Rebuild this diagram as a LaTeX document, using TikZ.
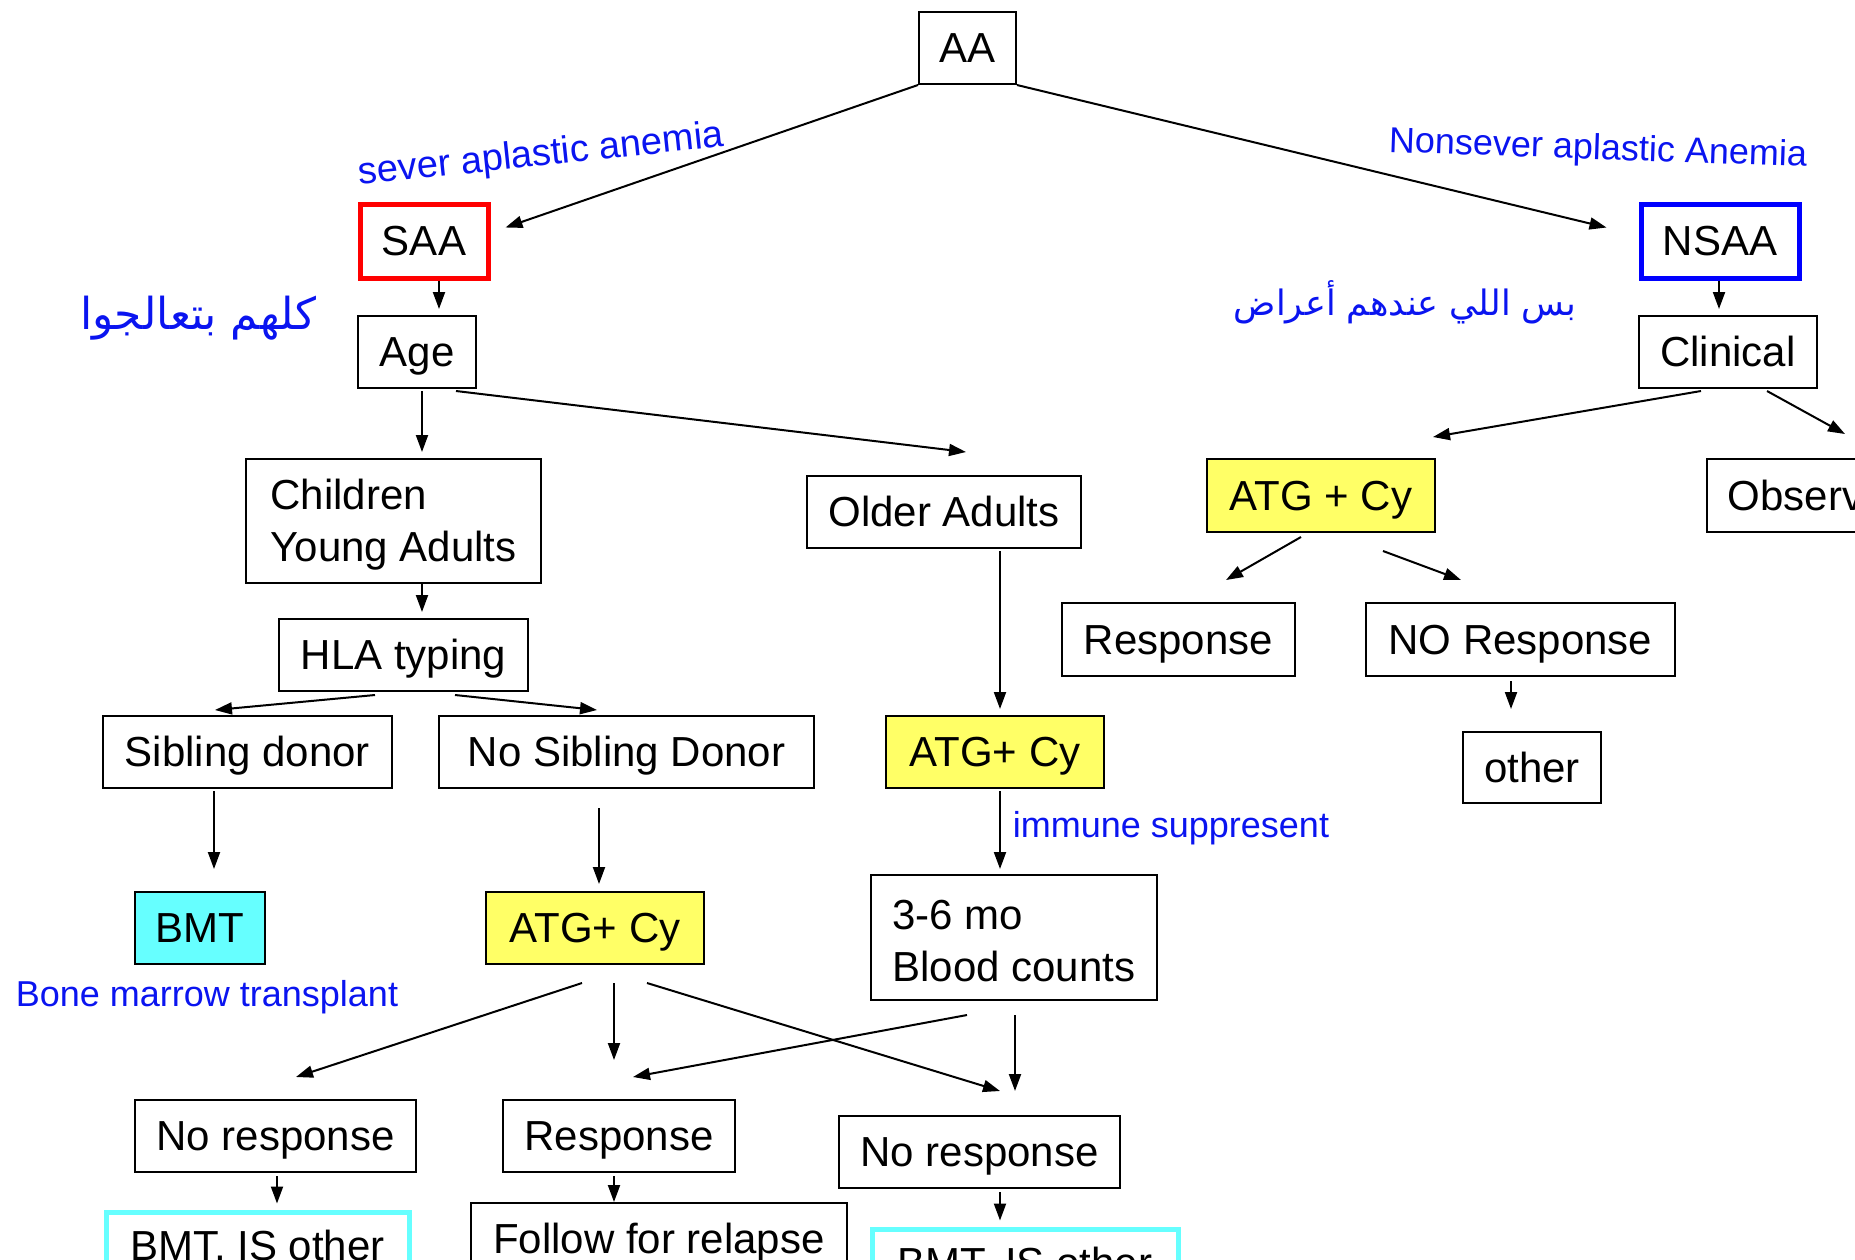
\documentclass[tikz,border=0pt]{standalone}
\usepackage{fontspec}
\setmainfont{Liberation Sans}
\newfontfamily\arabicfont[Script=Arabic]{DejaVu Sans}
\TeXXeTstate=1
\usetikzlibrary{arrows.meta}
\definecolor{hlyellow}{RGB}{255,255,102}
\definecolor{hlcyan}{RGB}{102,255,255}
\definecolor{inkblue}{RGB}{10,20,240}
\begin{document}
\begin{tikzpicture}[x=1pt,y=-1pt,
  box/.style={draw, line width=2pt, inner sep=0pt, minimum height=72pt, align=center,
    text height=38pt, text depth=9pt, font=\fontsize{42}{52}\selectfont},
  yel/.style={box, fill=hlyellow},
  cyb/.style={box, draw=hlcyan, line width=5pt},
  arr/.style={-{Triangle[length=17pt,width=12pt]}, line width=2pt},
  note/.style={text=inkblue, inner sep=0pt, font=\fontsize{36}{40}\selectfont}]
\clip (0,0) rectangle (1855,1259);
\fill[white] (0,0) rectangle (1855,1259);

% nodes
\node[box, minimum width=97pt] (AA) at (967.5,48) {AA};
\node[box, draw=red, line width=5pt, minimum width=128pt, minimum height=74pt] (SAA) at (424,241) {SAA};
\node[box, draw=blue, line width=5pt, minimum width=158pt, minimum height=74pt] (NSAA) at (1720,241) {NSAA};
\node[box, minimum width=118pt] (age) at (417,352) {Age};
\node[box, minimum width=178pt] (clin) at (1728,352) {Clinical};
\node[box, minimum width=295pt, minimum height=124pt, align=left, text height=89pt, text depth=9pt] (child) at (393.5,521) {Children\\Young Adults};
\node[box, minimum width=274pt] (older) at (944,512) {Older Adults};
\node[yel, minimum width=228pt, minimum height=73pt] (atgR) at (1321,495.5) {ATG + Cy};
\node[box, minimum width=268pt, minimum height=73pt] (obs) at (1841,495.5) {Observation};
\node[box, minimum width=233pt, minimum height=73pt] (respR) at (1178.5,639.5) {Response};
\node[box, minimum width=309pt, minimum height=73pt] (noresp) at (1520.5,639.5) {NO Response};
\node[box, minimum width=138pt, minimum height=71pt] (other) at (1532,767.5) {other};
\node[box, minimum width=249pt] (hla) at (403.5,655) {HLA typing};
\node[box, minimum width=289pt] (sib) at (247.5,752) {Sibling donor};
\node[box, minimum width=375pt] (nosib) at (626.5,752) {No Sibling Donor};
\node[yel, minimum width=218pt] (atgM) at (995,752) {ATG+ Cy};
\node[box, fill=hlcyan, minimum width=130pt] (bmt) at (200,928) {BMT};
\node[yel, minimum width=218pt] (atgL) at (595,928) {ATG+ Cy};
\node[box, minimum width=286pt, minimum height=125pt, align=left, text height=88pt, text depth=0pt] (mo) at (1014,937.5) {3-6 mo\\Blood counts};
\node[box, minimum width=281pt] (nrL) at (275.5,1136) {No response};
\node[box, minimum width=232pt] (respM) at (619,1136) {Response};
\node[box, minimum width=281pt] (nrR) at (979.5,1152) {No response};
\node[cyb, minimum width=303pt, minimum height=68pt] (bisL) at (257.5,1246) {BMT, IS other};
\node[box, minimum width=376pt] (follow) at (659,1239) {Follow for relapse};
\node[cyb, minimum width=306pt, minimum height=68pt] (bisR) at (1025,1263) {BMT, IS other};

% connectors
\draw[arr] (AA.south west) -- ([shift={(15,26)}]SAA.north east);
\draw[arr] (AA.south east) -- ([shift={(-32,26)}]NSAA.north west);
\draw[arr] ([shift={(15,0)}]SAA.south) -- ([shift={(22,-6)}]age.north);
\draw[arr] ([shift={(-1,0)}]NSAA.south) -- ([shift={(-9,-6)}]clin.north);
\draw[arr] ([shift={(5,2)}]age.south) -- ([shift={(28.5,-6)}]child.north);
\draw[arr] ([shift={(-21,2)}]age.south east) -- ([shift={(22,-23)}]older.north);
\draw[arr] ([shift={(-27,2)}]clin.south) -- ([shift={(-3,-21)}]atgR.north east);
\draw[arr] ([shift={(-51,2)}]clin.south east) -- ([shift={(139,-24)}]obs.north west);
\draw[arr] ([shift={(-20,4)}]atgR.south) -- ([shift={(47.5,-22)}]respR.north);
\draw[arr] ([shift={(62,18)}]atgR.south) -- ([shift={(96,-22)}]noresp.north west);
\draw[arr] ([shift={(-9.5,4)}]noresp.south) -- ([shift={(-21,-22)}]other.north);
\draw[arr] ([shift={(28.5,0)}]child.south) -- ([shift={(18.5,-6)}]hla.north);
\draw[arr] ([shift={(-28.5,3)}]hla.south) -- ([shift={(-32.5,-5)}]sib.north);
\draw[arr] ([shift={(51.5,3)}]hla.south) -- ([shift={(-29.5,-5)}]nosib.north);
\draw[arr] ([shift={(56,2)}]older.south) -- ([shift={(5,-6)}]atgM.north);
\draw[arr] ([shift={(5,2)}]atgM.south) -- ([shift={(-14,-5)}]mo.north);
\draw[arr] ([shift={(-33.5,2)}]sib.south) -- ([shift={(14,-22)}]bmt.north);
\draw[arr] ([shift={(-27.5,19)}]nosib.south) -- ([shift={(4,-7)}]atgL.north);
\draw[arr] ([shift={(-13,18)}]atgL.south) -- ([shift={(20.5,-22)}]nrL.north);
\draw[arr] ([shift={(19,18)}]atgL.south) -- ([shift={(-5,-39)}]respM.north);
\draw[arr] ([shift={(52,18)}]atgL.south) -- ([shift={(20.5,-24)}]nrR.north);
\draw[arr] ([shift={(-47,14)}]mo.south) -- ([shift={(14,-22)}]respM.north);
\draw[arr] ([shift={(1,14)}]mo.south) -- ([shift={(35.5,-24)}]nrR.north);
\draw[arr] ([shift={(1.5,3)}]nrL.south) -- ([shift={(19.5,-6)}]bisL.north);
\draw[arr] ([shift={(-5,3)}]respM.south) -- ([shift={(-45,0)}]follow.north);
\draw[arr] ([shift={(20.5,3)}]nrR.south) -- ([shift={(-25,-6)}]bisR.north);

% handwritten annotations
\node[note, rotate=6, font=\fontsize{38}{42}\selectfont] (n1) at (541,156) {sever aplastic anemia};
\node[note, rotate=-2] (n2) at (1598,150) {Nonsever aplastic Anemia};
\node[note, font=\fontsize{44}{48}\arabicfont] (n3) at (198,318) {\beginR كلهم بتعالجوا\endR};
\node[note, font=\fontsize{35}{40}\arabicfont] (n4) at (1405,302) {\beginR بس اللي عندهم أعراض\endR};
\node[note] (n5) at (1171,828) {immune suppresent};
\node[note] (n6) at (207,997) {Bone marrow transplant};
\end{tikzpicture}
\end{document}
